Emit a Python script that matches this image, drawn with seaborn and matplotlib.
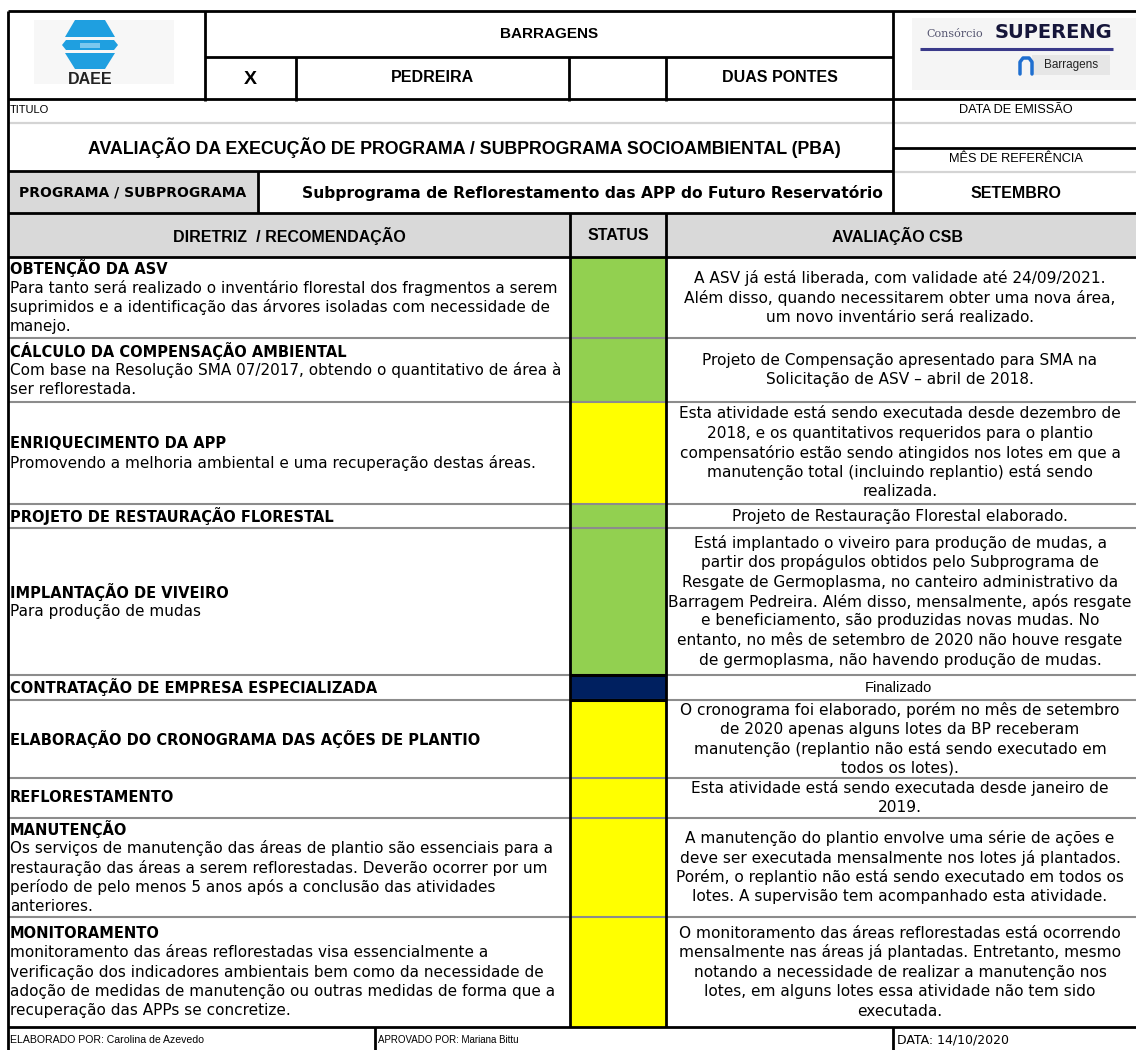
import numpy as np
import pandas as pd
import seaborn as sns
import matplotlib
matplotlib.use("Agg")
import matplotlib.pyplot as plt
from matplotlib.patches import Rectangle, Polygon

sns.set_theme(style="white")
plt.rcParams['font.family'] = ['DejaVu Sans']

# ---------------- DATA ----------------
diretriz_titulos = [
    "OBTENÇÃO DA ASV",
    "CÁLCULO DA COMPENSAÇÃO AMBIENTAL",
    "ENRIQUECIMENTO DA APP",
    "PROJETO DE RESTAURAÇÃO FLORESTAL",
    "IMPLANTAÇÃO DE VIVEIRO",
    "CONTRATAÇÃO DE EMPRESA ESPECIALIZADA",
    "ELABORAÇÃO DO CRONOGRAMA DAS AÇÕES DE PLANTIO",
    "REFLORESTAMENTO",
    "MANUTENÇÃO",
    "MONITORAMENTO",
]
diretriz_descricoes = [
    ["Para tanto será realizado o inventário florestal dos fragmentos a serem",
     "suprimidos e a identificação das árvores isoladas com necessidade de",
     "manejo."],
    ["Com base na Resolução SMA 07/2017, obtendo o quantitativo de área à",
     "ser reflorestada."],
    ["Promovendo a melhoria ambiental e uma recuperação destas áreas."],
    [],
    ["Para produção de mudas"],
    [],
    [],
    [],
    ["Os serviços de manutenção das áreas de plantio são essenciais para a",
     "restauração das áreas a serem reflorestadas. Deverão ocorrer por um",
     "período de pelo menos 5 anos após a conclusão das atividades",
     "anteriores."],
    ["monitoramento das áreas reflorestadas visa essencialmente a",
     "verificação dos indicadores ambientais bem como da necessidade de",
     "adoção de medidas de manutenção ou outras medidas de forma que a",
     "recuperação das APPs se concretize."],
]
status = ["Atendido", "Atendido", "Parcial", "Atendido", "Atendido",
          "Finalizado", "Parcial", "Parcial", "Parcial", "Parcial"]
status_cores = {"Atendido": "#92D050", "Parcial": "#FFFF00", "Finalizado": "#002060"}
avaliacoes = [
    ["A ASV já está liberada, com validade até 24/09/2021.",
     "Além disso, quando necessitarem obter uma nova área,",
     "um novo inventário será realizado."],
    ["Projeto de Compensação apresentado para SMA na",
     "Solicitação de ASV – abril de 2018."],
    ["Esta atividade está sendo executada desde dezembro de",
     "2018, e os quantitativos requeridos para o plantio",
     "compensatório estão sendo atingidos nos lotes em que a",
     "manutenção total (incluindo replantio) está sendo",
     "realizada."],
    ["Projeto de Restauração Florestal elaborado."],
    ["Está implantado o viveiro para produção de mudas, a",
     "partir dos propágulos obtidos pelo Subprograma de",
     "Resgate de Germoplasma, no canteiro administrativo da",
     "Barragem Pedreira. Além disso, mensalmente, após resgate",
     "e beneficiamento, são produzidas novas mudas. No",
     "entanto, no mês de setembro de 2020 não houve resgate",
     "de germoplasma, não havendo produção de mudas."],
    ["Finalizado"],
    ["O cronograma foi elaborado, porém no mês de setembro",
     "de 2020 apenas alguns lotes da BP receberam",
     "manutenção (replantio não está sendo executado em",
     "todos os lotes)."],
    ["Esta atividade está sendo executada desde janeiro de",
     "2019."],
    ["A manutenção do plantio envolve uma série de ações e",
     "deve ser executada mensalmente nos lotes já plantados.",
     "Porém, o replantio não está sendo executado em todos os",
     "lotes. A supervisão tem acompanhado esta atividade."],
    ["O monitoramento das áreas reflorestadas está ocorrendo",
     "mensalmente nas áreas já plantadas. Entretanto, mesmo",
     "notando a necessidade de realizar a manutenção nos",
     "lotes, em alguns lotes essa atividade não tem sido",
     "executada."],
]
titulo_form = "AVALIAÇÃO DA EXECUÇÃO DE PROGRAMA / SUBPROGRAMA SOCIOAMBIENTAL (PBA)"
subprograma = "Subprograma de Reflorestamento das APP do Futuro Reservatório"
mes_referencia = "SETEMBRO"
elaborado = "ELABORADO POR: Carolina de Azevedo"
aprovado = "APROVADO POR: Mariana Bittu"
data_doc = "DATA: 14/10/2020"

df = pd.DataFrame({"diretriz": diretriz_titulos, "status": status})

# ---------------- LAYOUT ----------------
W, H = 1136, 1050
ROW_EDGES = [257, 338, 402, 504, 528, 675, 700, 778, 818, 917, 1027]
XL, XS0, XS1, XR = 8, 570, 666, 1136
LH = 19.5
BLACK_LW = 2.0
GRAY = "#8c8c8c"
LIGHT = "#d4d4d4"
BG = "#d9d9d9"
ARIAL = "Liberation Sans"
FS_BODY = 11.0
FS_EVAL = 11.1
FS_TITLE = 10.5
FS_HEAD = 11.5

fig = plt.figure(figsize=(W / 100, H / 100), dpi=100)
ax = fig.add_axes([0, 0, 1, 1])
ax.set_xlim(0, W)
ax.set_ylim(H, 0)
ax.axis("off")


def hl(y, x0, x1, c="black", lw=BLACK_LW, z=5):
    ax.plot([x0, x1], [y, y], color=c, lw=lw, zorder=z, solid_capstyle="butt")


def vl(x, y0, y1, c="black", lw=BLACK_LW, z=5):
    ax.plot([x, x], [y0, y1], color=c, lw=lw, zorder=z, solid_capstyle="butt")


def txt(x, y, s, size=10, weight="normal", ha="center", family=None, color="black"):
    kw = {}
    if family:
        kw["family"] = family
    ax.text(x, y, s, fontsize=size, fontweight=weight, ha=ha, va="center",
            color=color, zorder=6, **kw)


# backgrounds
ax.add_patch(Rectangle((XL, 213), XR - XL, 44, color=BG, zorder=1, lw=0))
ax.add_patch(Rectangle((XL, 171), 258 - XL, 42, color=BG, zorder=1, lw=0))

# status cells (bars over the row positions)
tops = np.array(ROW_EDGES[:-1])
heights = np.diff(ROW_EDGES)
ax.bar(x=[(XS0 + XS1) / 2] * len(df), height=heights, bottom=tops,
       width=XS1 - XS0, color=[status_cores[s] for s in df["status"]],
       edgecolor="none", zorder=2)

# ---------------- HEADER ----------------
hl(11, XL, XR)
hl(57, 205, 893)
hl(99, XL, XR)
vl(XL, 11, H)
vl(205, 11, 101)
vl(296, 57, 101)
vl(569, 57, 101)
vl(666, 57, 101)
vl(893, 11, 213)
hl(123, XL, XR, c=LIGHT, lw=1.6, z=3)
hl(148, 893, XR)
hl(172, 893, XR, c=LIGHT, lw=1.6, z=3)
hl(171, XL, 893)
vl(258, 171, 213)
hl(213, XL, XR)
hl(257, XL, XR)

txt(549, 34, "BARRAGENS", 11, "bold", family=ARIAL)
txt(250, 79, "X", 14, "bold", family=ARIAL)
txt(432, 78, "PEDREIRA", FS_HEAD, "bold", family=ARIAL)
txt(780, 78, "DUAS PONTES", FS_HEAD, "bold", family=ARIAL)
txt(10, 110, "TITULO", 8, ha="left", family=ARIAL)
txt(1016, 110, "DATA DE EMISSÃO", 9.2, family=ARIAL)
txt(464, 148, titulo_form, 12.8, "bold", family=ARIAL)
txt(1016, 159, "MÊS DE REFERÊNCIA", 9.2, family=ARIAL)
txt(133, 193, "PROGRAMA / SUBPROGRAMA", 10, "bold")
txt(592, 193, subprograma, 11.2, "bold")
txt(1016, 193, mes_referencia, FS_HEAD, "bold", family=ARIAL)
txt(289, 236, "DIRETRIZ  / RECOMENDAÇÃO", FS_HEAD, "bold", family=ARIAL)
txt(618, 236, "STATUS", FS_HEAD, "bold", family=ARIAL)
txt(898, 236, "AVALIAÇÃO CSB", FS_HEAD, "bold", family=ARIAL)

# DAEE logo
blue = "#1f9fe0"
ax.add_patch(Rectangle((34, 20), 140, 64, color="#f7f7f7", zorder=2, lw=0))
ax.add_patch(Polygon([(65, 37), (75, 20), (105, 20), (115, 37)], color=blue, zorder=3, lw=0))
ax.add_patch(Polygon([(62, 45), (66, 40), (114, 40), (118, 45), (114, 50), (66, 50)], color=blue, zorder=3, lw=0))
ax.add_patch(Rectangle((80, 42.5), 20, 5, color="#7cc8ee", zorder=4, lw=0))
ax.add_patch(Polygon([(65, 53), (115, 53), (105, 69), (75, 69)], color=blue, zorder=3, lw=0))
txt(90, 79, "DAEE", 11.5, "bold", family=ARIAL, color="#222222")

# SUPERENG logo
ax.add_patch(Rectangle((912, 18), 224, 72, color="#f5f5f5", zorder=2, lw=0))
txt(955, 34, "Consórcio", 8, family="DejaVu Serif", color="#555570")
txt(1053, 32, "SUPERENG", 14, "heavy", family="DejaVu Sans", color="#16163a")
hl(49, 920, 1113, c="#3a3a8a", lw=2.2, z=4)
ax.add_patch(Rectangle((1032, 55), 78, 20, color="#e6e6e6", zorder=3, lw=0))
ax.plot([1020, 1020, 1023, 1029, 1032, 1032], [74, 62, 58, 58, 62, 74], color="#1f6fd0", lw=2.5, zorder=4)
txt(1071, 65, "Barragens", 8.5, family=ARIAL, color="#222222")

# ---------------- BODY ----------------
vl(XS0, 213, 1027)
vl(XS1, 213, 1027)
for y in ROW_EDGES[1:-1]:
    hl(y, XL + 1, XR, c=GRAY, lw=1.5, z=3)
# navy cell border
i_fin = status.index("Finalizado")
hl(ROW_EDGES[i_fin], XS0, XS1, lw=2.2, z=5)
hl(ROW_EDGES[i_fin + 1], XS0, XS1, lw=2.2, z=5)

for i, (t, d, av) in enumerate(zip(diretriz_titulos, diretriz_descricoes, avaliacoes)):
    top, bot = ROW_EDGES[i], ROW_EDGES[i + 1]
    c = (top + bot) / 2
    lines = [t] + d
    n = len(lines)
    for k, s in enumerate(lines):
        y = c + (k - (n - 1) / 2) * LH
        if k == 0:
            txt(10, y, s, FS_TITLE, "bold", ha="left")
        else:
            txt(10, y, s, FS_BODY, ha="left")
    m = len(av)
    for k, s in enumerate(av):
        y = c + (k - (m - 1) / 2) * LH
        if s == "Finalizado":
            txt(898, y, s, 10.5, family=ARIAL)
        else:
            txt(900, y, s, FS_EVAL)

# ---------------- FOOTER ----------------
hl(1027, XL, XR)
vl(375, 1027, H)
vl(893, 1027, H)
txt(10, 1040, elaborado, 7.6, ha="left", family=ARIAL)
txt(378, 1040, aprovado, 7, ha="left", family=ARIAL)
txt(897, 1040, data_doc, 9, ha="left")

fig.savefig("out.png", dpi=100)
